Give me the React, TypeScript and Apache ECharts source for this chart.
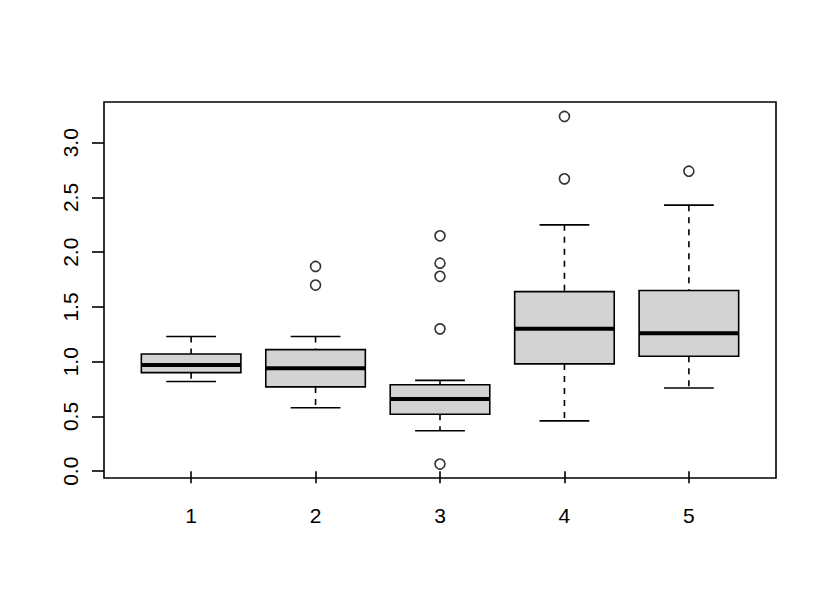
import React, { useEffect, useRef } from "react";
import * as echarts from "echarts";

const categories = ["1", "2", "3", "4", "5"];
const positions = [1, 2, 3, 4, 5];
const lowerWhisker = [0.82, 0.58, 0.37, 0.46, 0.76];
const q1 = [0.9, 0.77, 0.52, 0.98, 1.05];
const median = [0.97, 0.94, 0.66, 1.3, 1.26];
const q3 = [1.07, 1.11, 0.79, 1.64, 1.65];
const upperWhisker = [1.23, 1.23, 0.83, 2.25, 2.43];
const outliers: [number, number][] = [
  [2, 1.87],
  [2, 1.7],
  [3, 2.15],
  [3, 1.9],
  [3, 1.78],
  [3, 1.3],
  [3, 0.065],
  [4, 3.24],
  [4, 2.67],
  [5, 2.74],
];
const yTickValues = [0, 0.5, 1, 1.5, 2, 2.5, 3];

export default function App() {
  const ref = useRef<HTMLDivElement>(null);

  useEffect(() => {
    document.body.style.margin = "0";
    if (!ref.current) return;
    const chart = echarts.init(ref.current, null, { renderer: "svg" });
    const boxData = positions.map((p, i) => [
      p,
      lowerWhisker[i],
      q1[i],
      median[i],
      q3[i],
      upperWhisker[i],
    ]);
    const font = "'Liberation Sans', Arial, Helvetica, sans-serif";
    const lw = 1.6;
    chart.setOption({
      animation: false,
      backgroundColor: "#ffffff",
      grid: {
        left: 104,
        top: 102,
        right: 54,
        bottom: 130,
        show: true,
        borderColor: "#000",
        borderWidth: lw,
        backgroundColor: "transparent",
      },
      xAxis: {
        type: "value",
        min: 0.3,
        max: 5.7,
        axisLine: { show: false },
        splitLine: { show: false },
        axisTick: {
          show: true,
          length: 12,
          customValues: positions,
          lineStyle: { color: "#000", width: lw },
        },
        axisLabel: {
          customValues: positions,
          formatter: (v: number) => categories[Math.round(v) - 1] ?? "",
          fontSize: 21,
          fontFamily: font,
          color: "#000",
          margin: 27,
        },
      },
      yAxis: {
        type: "value",
        min: -0.062,
        max: 3.372,
        axisLine: { show: false },
        splitLine: { show: false },
        axisTick: {
          show: true,
          length: 12,
          customValues: yTickValues,
          lineStyle: { color: "#000", width: lw },
        },
        axisLabel: {
          customValues: yTickValues,
          formatter: (v: number) => v.toFixed(1),
          rotate: 90,
          fontSize: 21,
          fontFamily: font,
          color: "#000",
          margin: 23,
        },
      },
      series: [
        {
          type: "custom",
          data: boxData,
          encode: { x: 0, y: [1, 2, 3, 4, 5] },
          renderItem: (params: any, api: any) => {
            const x = api.value(0);
            const lo = api.value(1);
            const a = api.value(2);
            const m = api.value(3);
            const b = api.value(4);
            const hi = api.value(5);
            const cx = api.coord([x, 0])[0];
            const left = api.coord([x - 0.4, 0])[0];
            const right = api.coord([x + 0.4, 0])[0];
            const sl = api.coord([x - 0.2, 0])[0];
            const sr = api.coord([x + 0.2, 0])[0];
            const yLo = api.coord([x, lo])[1];
            const yA = api.coord([x, a])[1];
            const yM = api.coord([x, m])[1];
            const yB = api.coord([x, b])[1];
            const yHi = api.coord([x, hi])[1];
            const dashStyle = { stroke: "#000", lineWidth: lw, lineDash: [6, 6] };
            const solid = { stroke: "#000", lineWidth: lw };
            return {
              type: "group",
              children: [
                { type: "line", shape: { x1: cx, y1: yHi, x2: cx, y2: yB }, style: dashStyle },
                { type: "line", shape: { x1: cx, y1: yA, x2: cx, y2: yLo }, style: dashStyle },
                { type: "line", shape: { x1: sl, y1: yHi, x2: sr, y2: yHi }, style: solid },
                { type: "line", shape: { x1: sl, y1: yLo, x2: sr, y2: yLo }, style: solid },
                {
                  type: "rect",
                  shape: { x: left, y: yB, width: right - left, height: yA - yB },
                  style: { fill: "#d3d3d3", stroke: "#000", lineWidth: lw },
                },
                {
                  type: "line",
                  shape: { x1: left, y1: yM, x2: right, y2: yM },
                  style: { stroke: "#000", lineWidth: 4 },
                },
              ],
            };
          },
        },
        {
          type: "scatter",
          data: outliers,
          symbol: "circle",
          symbolSize: 10,
          itemStyle: { color: "#fff", borderColor: "#000", borderWidth: lw },
        },
      ],
    });
    return () => chart.dispose();
  }, []);

  return <div ref={ref} style={{ width: 830, height: 608 }} />;
}
